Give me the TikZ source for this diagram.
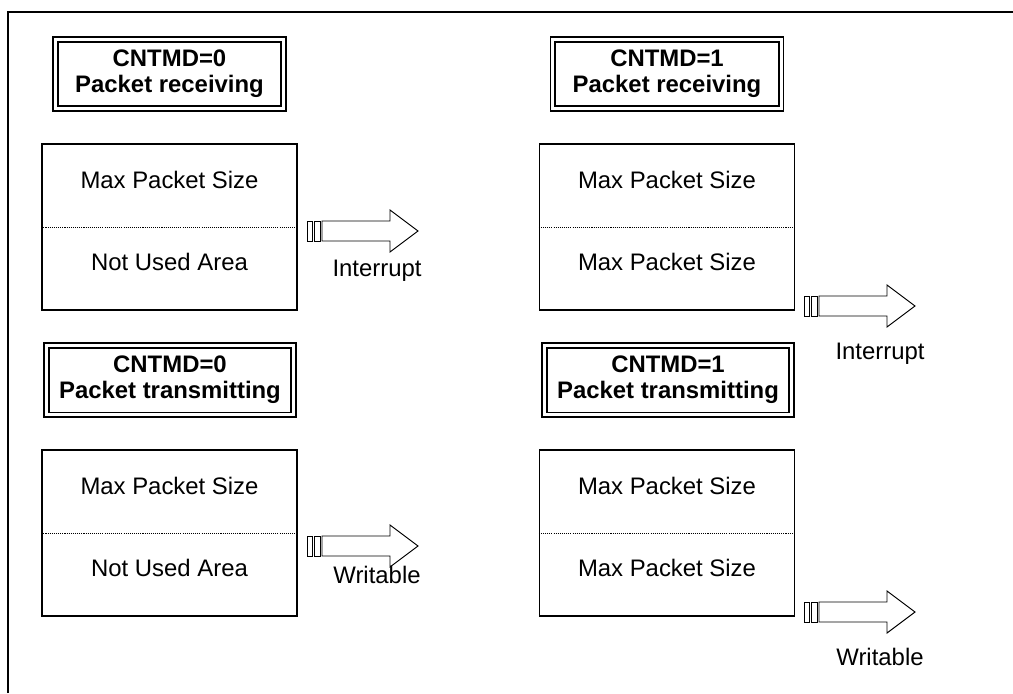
\documentclass[tikz,border=0pt]{standalone}
\usepackage{fontspec}
\setmainfont{Liberation Sans}
\usetikzlibrary{positioning}

\begin{document}
\begin{tikzpicture}[x=0.02cm, y=-0.02cm, font=\fontsize{13.6}{14.8}\selectfont]

        % Setup the styles for the boxes and arrows
        \tikzset{title style/.style={draw,
                                     double,
                                     line width=0.9pt,
                                     double distance=1.9pt,
                                     minimum height=1.39cm,
                                     inner sep=0pt,
                                     align=center,
                                     font=\fontsize{13.6}{14.8}\selectfont\bfseries},
                 buffer style/.style={draw,
                                      line width=0.85pt,
                                      minimum width=5.1cm,
                                      minimum height=3.32cm},
                 divider/.style={line width=0.5pt, dash pattern=on 0.6pt off 0.6pt},
                 fat arrow/.style={line width=0.55pt}}

        \useasboundingbox (0,0) rectangle (1013,693);

        % Draw the frame
        \draw[line width=0.75pt] (8,693) -- (8,12) -- (1013,12);

        % Draw the titles
        \node[title style, minimum width=4.57cm] at (169.5, 74) (rx0) {CNTMD=0\\Packet receiving};
        \node[title style, minimum width=4.57cm] at (667, 74)   (rx1) {CNTMD=1\\Packet receiving};
        \node[title style, minimum width=4.95cm] at (170, 380)  (tx0) {CNTMD=0\\Packet transmitting};
        \node[title style, minimum width=4.95cm] at (668, 380)  (tx1) {CNTMD=1\\Packet transmitting};

        % Draw the buffers
        \node[buffer style] at (169.5, 227) (rxbuf0) {};
        \node[buffer style] at (667, 227)   (rxbuf1) {};
        \node[buffer style] at (169.5, 533) (txbuf0) {};
        \node[buffer style] at (667, 533)   (txbuf1) {};

        \foreach \buf in {rxbuf0, rxbuf1, txbuf0, txbuf1}
            \draw[divider] (\buf.west) -- (\buf.east);

        \node at (169.5, 180) (rxtop0) {Max Packet Size};
        \node at (169.5, 262) (rxbot0) {Not Used Area};
        \node at (667, 180)   (rxtop1) {Max Packet Size};
        \node at (667, 262)   (rxbot1) {Max Packet Size};
        \node at (169.5, 486) (txtop0) {Max Packet Size};
        \node at (169.5, 568) (txbot0) {Not Used Area};
        \node at (667, 486)   (txtop1) {Max Packet Size};
        \node at (667, 568)   (txbot1) {Max Packet Size};

        % Draw the arrows
        \foreach \x/\y in {307/231, 804/306, 307/546, 804/612} {
            \draw[fat arrow] (\x, \y-10) rectangle (\x+5, \y+10);
            \draw[fat arrow] (\x+7, \y-10) rectangle (\x+13, \y+10);
            \draw[fat arrow] (\x+15, \y-10) -- (\x+83, \y-10) -- (\x+83, \y-21)
                -- (\x+111, \y) -- (\x+83, \y+21) -- (\x+83, \y+10) -- (\x+15, \y+10) -- cycle;
        }

        \node at (377, 271) (irq0) {Interrupt};
        \node at (880, 354) (irq1) {Interrupt};
        \node at (377, 575) (wr0)  {Writable};
        \node at (880, 657) (wr1)  {Writable};
    \end{tikzpicture}
\end{document}
